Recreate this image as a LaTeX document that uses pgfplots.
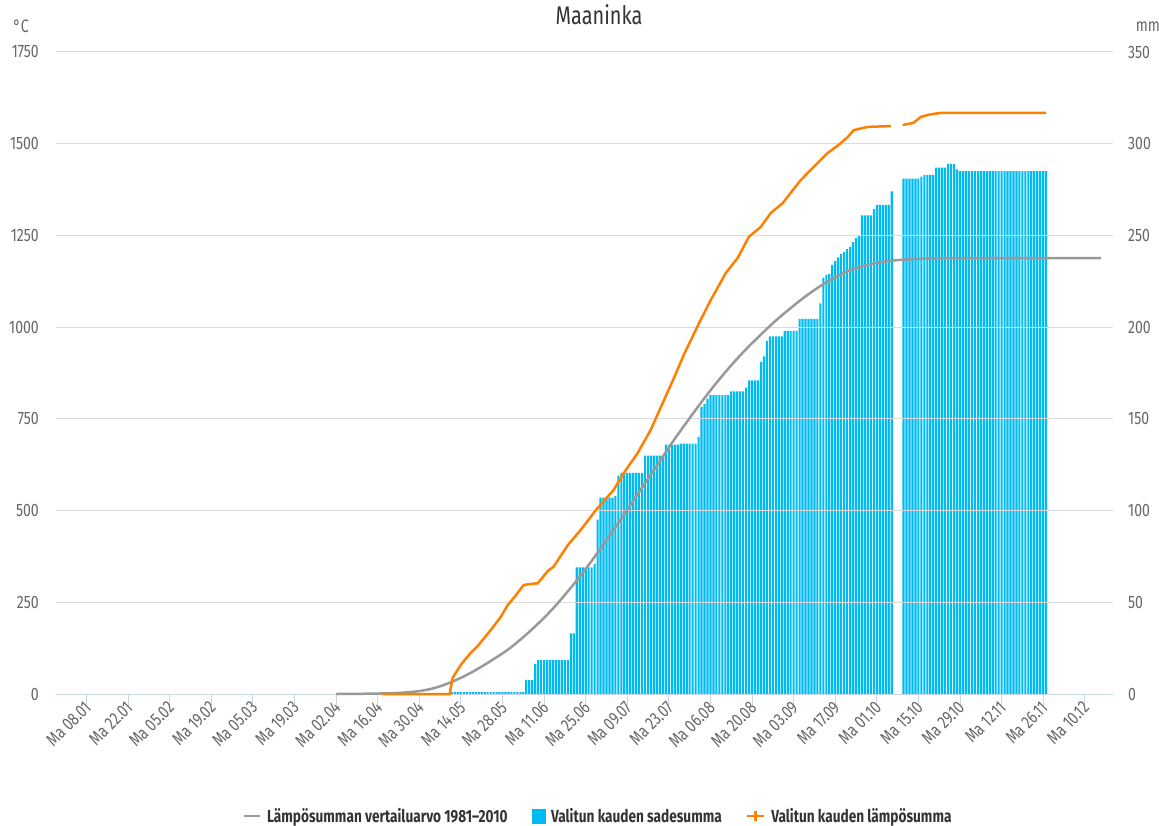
\documentclass[border=0pt]{standalone}
\usepackage{fontspec}
\setmainfont{Fira Sans}[FakeStretch=0.78]
\usepackage{pgfplots}
\usepackage{pgfplotstable}
\pgfplotsset{compat=1.18}
\definecolor{barblue}{RGB}{0,187,242}
\definecolor{heatorange}{RGB}{255,128,0}
\definecolor{refgray}{RGB}{153,153,153}
\definecolor{gridgray}{RGB}{218,218,218}
\definecolor{axisblue}{RGB}{204,214,235}
\definecolor{ticktext}{RGB}{102,102,102}
\definecolor{titletext}{RGB}{51,51,51}

\pgfplotstableread[row sep=\\]{
day mm\\
131 1\\ 132 1\\ 133 1\\ 134 1\\ 135 1\\ 136 1\\ 137 1\\ 138 1\\ 139 1\\ 140 1\\
141 1\\ 142 1\\ 143 1\\ 144 1\\ 145 1\\ 146 1\\ 147 1\\ 148 1\\ 149 1\\ 150 1\\
151 1\\ 152 1\\ 153 1\\ 154 1\\ 155 1\\
156 7.6\\ 157 7.6\\ 158 7.6\\ 159 16.4\\
160 18.5\\ 161 18.5\\ 162 18.5\\ 163 18.5\\ 164 18.5\\ 165 18.5\\ 166 18.5\\ 167 18.5\\ 168 18.5\\ 169 18.5\\ 170 18.5\\
171 33\\ 172 33\\
173 69\\ 174 69\\ 175 69\\ 176 69\\ 177 69\\ 178 69\\ 179 71\\ 180 95\\
181 107\\ 182 107\\ 183 107\\ 184 107\\ 185 107\\ 186 108\\ 187 119\\
188 120.5\\ 189 120.5\\ 190 120.5\\ 191 120.5\\ 192 120.5\\ 193 120.5\\ 194 120.5\\ 195 120.5\\
196 130\\ 197 130\\ 198 130\\ 199 130\\ 200 130\\ 201 130\\ 202 130\\
203 136\\ 204 136\\ 205 136\\ 206 136\\ 207 136\\
208 136.5\\ 209 136.5\\ 210 136.5\\ 211 136.5\\ 212 136.5\\ 213 136.5\\
214 140\\ 215 156.5\\ 216 158\\ 217 161\\
218 163\\ 219 163\\ 220 163\\ 221 163\\ 222 163\\ 223 163\\ 224 163\\
225 165\\ 226 165\\ 227 165\\ 228 165\\ 229 165\\ 230 167\\
231 171\\ 232 171\\ 233 171\\ 234 171\\ 235 181\\ 236 184\\ 237 192.5\\
238 195\\ 239 195\\ 240 195\\ 241 195\\ 242 195\\
243 198\\ 244 198\\ 245 198\\ 246 198\\ 247 198\\
248 204.5\\ 249 204.5\\ 250 204.5\\ 251 204.5\\ 252 204.5\\ 253 204.5\\ 254 204.5\\
255 213\\ 256 227\\ 257 228.5\\ 258 229\\ 259 234\\ 260 236\\ 261 238\\ 262 240\\ 263 241\\
264 242.6\\ 265 243.7\\ 266 246.4\\ 267 248.6\\ 268 250\\
269 261\\ 270 261\\ 271 261\\ 272 261\\ 273 264.4\\
274 266.6\\ 275 266.6\\ 276 266.6\\ 277 266.6\\ 278 266.6\\ 279 274\\
283 281\\ 284 281\\ 285 281\\ 286 281\\ 287 281\\ 288 281\\ 289 282\\
290 283\\ 291 283\\ 292 283\\ 293 283\\
294 287\\ 295 287\\ 296 287\\ 297 287\\ 298 289\\ 299 289\\ 300 289\\ 301 286\\
302 285\\ 303 285\\ 304 285\\ 305 285\\ 306 285\\ 307 285\\ 308 285\\ 309 285\\ 310 285\\
311 285\\ 312 285\\ 313 285\\ 314 285\\ 315 285\\ 316 285\\ 317 285\\ 318 285\\ 319 285\\ 320 285\\
321 285\\ 322 285\\ 323 285\\ 324 285\\ 325 285\\ 326 285\\ 327 285\\ 328 285\\ 329 285\\ 330 285\\
331 285\\
}\raintable

\newcommand{\tickfont}{\fontsize{18}{20}\selectfont}

\pgfplotsset{
  base/.style={
    scale only axis, width=1057pt, height=642pt,
    at={(0pt,0pt)}, anchor=south west,
    xmin=-2.3, xmax=353.5,
    /pgf/number format/assume math mode=true,
    /pgf/number format/1000 sep={},
  },
  graylegend/.style={legend image code/.code={\draw[refgray, line width=2.5pt] (0pt,0pt) -- (16pt,0pt);}},
  bluelegend/.style={legend image code/.code={\fill[barblue] (0pt,-7pt) rectangle (13pt,7pt);}},
  orangelegend/.style={legend image code/.code={\draw[heatorange, line width=2.5pt] (0pt,0pt) -- (17pt,0pt); \draw[heatorange, line width=2.5pt] (8.5pt,-5pt) -- (8.5pt,5pt);}},
}

\begin{document}
\begin{tikzpicture}
\useasboundingbox (-56pt,-131pt) rectangle (1103pt,694pt);

% right axis: precipitation bars
\begin{axis}[base,
  axis x line=none,
  axis y line*=right,
  y axis line style={draw=none},
  ytick style={draw=none},
  ymin=0, ymax=350, ytick={0,50,...,350},
  yticklabel style={font=\tickfont, text=ticktext, anchor=west, inner sep=0pt, xshift=15pt},
]
\addplot[ybar, bar width=0.72, fill=barblue, draw=none] table[x=day,y=mm]{\raintable};
\end{axis}

% left axis: heat sums
\begin{axis}[base,
  axis x line*=bottom,
  axis y line*=left,
  y axis line style={draw=none},
  ytick style={draw=none},
  x axis line style={axisblue, line width=1pt},
  xtick style={axisblue, line width=1pt},
  xtick align=outside, major tick length=12pt,
  ymin=0, ymax=1750, ytick={0,250,...,1750},
  ymajorgrids, grid style={gridgray, line width=1pt},
  yticklabel style={font=\tickfont, text=ticktext, anchor=east, inner sep=0pt, xshift=-17pt},
  xtick={8,22,36,50,64,78,92,106,120,134,148,162,176,190,204,218,232,246,260,274,288,302,316,330,344},
  xticklabels={Ma 08.01,Ma 22.01,Ma 05.02,Ma 19.02,Ma 05.03,Ma 19.03,Ma 02.04,Ma 16.04,Ma 30.04,Ma 14.05,Ma 28.05,Ma 11.06,Ma 25.06,Ma 09.07,Ma 23.07,Ma 06.08,Ma 20.08,Ma 03.09,Ma 17.09,Ma 01.10,Ma 15.10,Ma 29.10,Ma 12.11,Ma 26.11,Ma 10.12},
  xticklabel style={font=\tickfont, text=ticktext, rotate=45, anchor=east, inner sep=1pt, xshift=3pt},
  title={Maaninka},
  title style={at={(0.5137,1.048)}, anchor=center, font=\fontsize{25.5}{28}\selectfont, text=titletext},
  legend style={at={(0.5128,-0.190)}, anchor=center, draw=none, fill=none,
    font=\fontsize{17.5}{20}\selectfont\bfseries, text=titletext,
    legend columns=3,
    /tikz/every odd column/.append style={column sep=4pt},
    /tikz/every even column/.append style={column sep=22pt}},
  legend cell align=left,
  clip=false,
]
\addlegendimage{graylegend}
\addlegendentry{Lämpösumman vertailuarvo 1981--2010}
\addlegendimage{bluelegend}
\addlegendentry{Valitun kauden sadesumma}
\addlegendimage{orangelegend}
\addlegendentry{Valitun kauden lämpösumma}

\addplot[refgray, line width=2.5pt, smooth, forget plot] coordinates {
(92,0)(100,0.5)(110,2)(115,4)(120,8)(125,16)(130,30)(135,48)(140,70)(145,95)
(150,122)(155,155)(160,192)(165,233)(170,280)(175,330)(180,385)(185,443)(190,502)
(195,563)(200,623)(205,684)(210,741)(215,796)(220,848)(225,896)(230,940)(235,980)
(240,1018)(245,1052)(250,1084)(255,1112)(260,1136)(265,1155)(270,1168)(275,1177)
(280,1182)(285,1185)(290,1187)(300,1188)(349.5,1188)};

\addplot[heatorange, line width=2.5pt, forget plot] coordinates {
(107.3,0)(130.2,0)(131.2,44)(134,80)(137.3,112)(140,134)(144,174)(147.4,210)(149.8,243)
(151.8,262)(155.1,297)(157.5,300)(159.9,302)(163.2,335)(165.2,347)(170,406)(174.3,447)
(180,507)(185.4,556)(188.8,602)(193.5,657)(197.9,720)(201.3,782)(205.7,861)(209,924)
(214.1,1010)(218.1,1074)(223.2,1148)(227.2,1189)(230.9,1246)(234.9,1273)(238.3,1311)
(242.3,1338)(245,1366)(248.4,1401)(252.8,1437)(257.5,1475)(261.2,1497)(264.2,1518)
(266.2,1537)(271,1546)(278.7,1548)};
\addplot[heatorange, line width=2.5pt, forget plot] coordinates {
(282.7,1551)(286.4,1557)(288.8,1573)(292,1580)(295.5,1584)(330.9,1584)};

\node[font=\tickfont, text=ticktext] at (rel axis cs:-0.0331,1.0405) {°C};
\node[font=\tickfont, text=ticktext] at (rel axis cs:1.0331,1.039) {mm};
\end{axis}
\end{tikzpicture}
\end{document}
